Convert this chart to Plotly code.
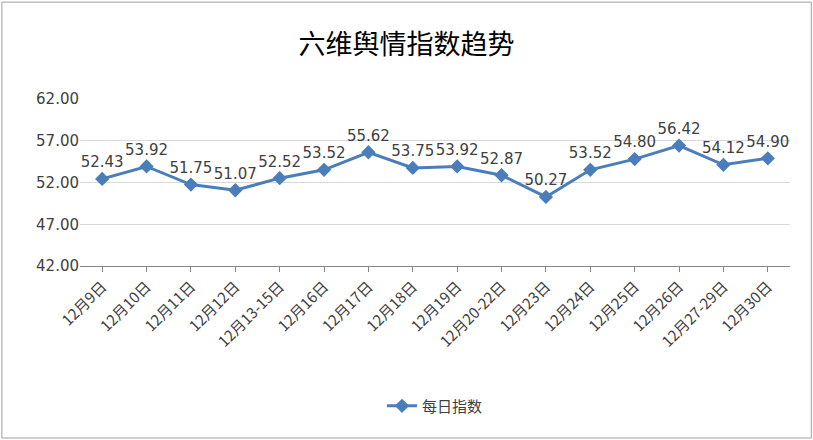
import plotly.graph_objects as go

categories = ["12月9日","12月10日","12月11日","12月12日","12月13-15日","12月16日","12月17日","12月18日",
              "12月19日","12月20-22日","12月23日","12月24日","12月25日","12月26日","12月27-29日","12月30日"]
values = [52.43,53.92,51.75,51.07,52.52,53.52,55.62,53.75,53.92,52.87,50.27,53.52,54.80,56.42,54.12,54.90]
yticks = [42,47,52,57,62]

fig = go.Figure(go.Scatter(
    x=categories, y=values, mode="lines+markers+text", name="每日指数",
    line=dict(color="#4A7EBB", width=3),
    marker=dict(symbol="diamond", size=11, color="#4A7EBB"),
    text=[f"{v:.2f}" for v in values], textposition="top center",
    textfont=dict(size=15, color="#404040", family="DejaVu Sans"),
))
fig.update_layout(
    width=813, height=440, paper_bgcolor="white", plot_bgcolor="white",
    title=dict(text="六维舆情指数趋势", x=0.5, y=0.92, xanchor="center",
               font=dict(size=27, color="black", family="Noto Sans CJK SC")),
    margin=dict(l=80, r=23, t=99, b=174),
    showlegend=True,
    legend=dict(orientation="h", x=0.5, xanchor="center", y=-0.74, yanchor="top",
                font=dict(size=15, color="#404040", family="Noto Sans CJK SC")),
    shapes=[dict(type="rect", xref="paper", yref="paper", x0=-0.11, x1=1.03, y0=-1.03, y1=1.58,
                 line=dict(color="#A0A0A0", width=1))],
)
fig.update_xaxes(type="category", tickangle=-45, showgrid=False, showline=True, linecolor="#868686",
                 ticks="outside", tickcolor="#868686", tickfont=dict(size=15, color="#404040", family="Noto Sans CJK SC"),
                 range=[-0.5, 15.5])
fig.update_yaxes(range=[42,62], tickvals=yticks, ticktext=[f"{v:.2f}" for v in yticks],
                 showgrid=True, gridcolor="#D9D9D9", zeroline=False, showline=False,
                 tickfont=dict(size=15, color="#404040", family="DejaVu Sans"))
fig.write_html("out.html", config={"displayModeBar": False},
               post_script="document.body.style.margin='0';")
